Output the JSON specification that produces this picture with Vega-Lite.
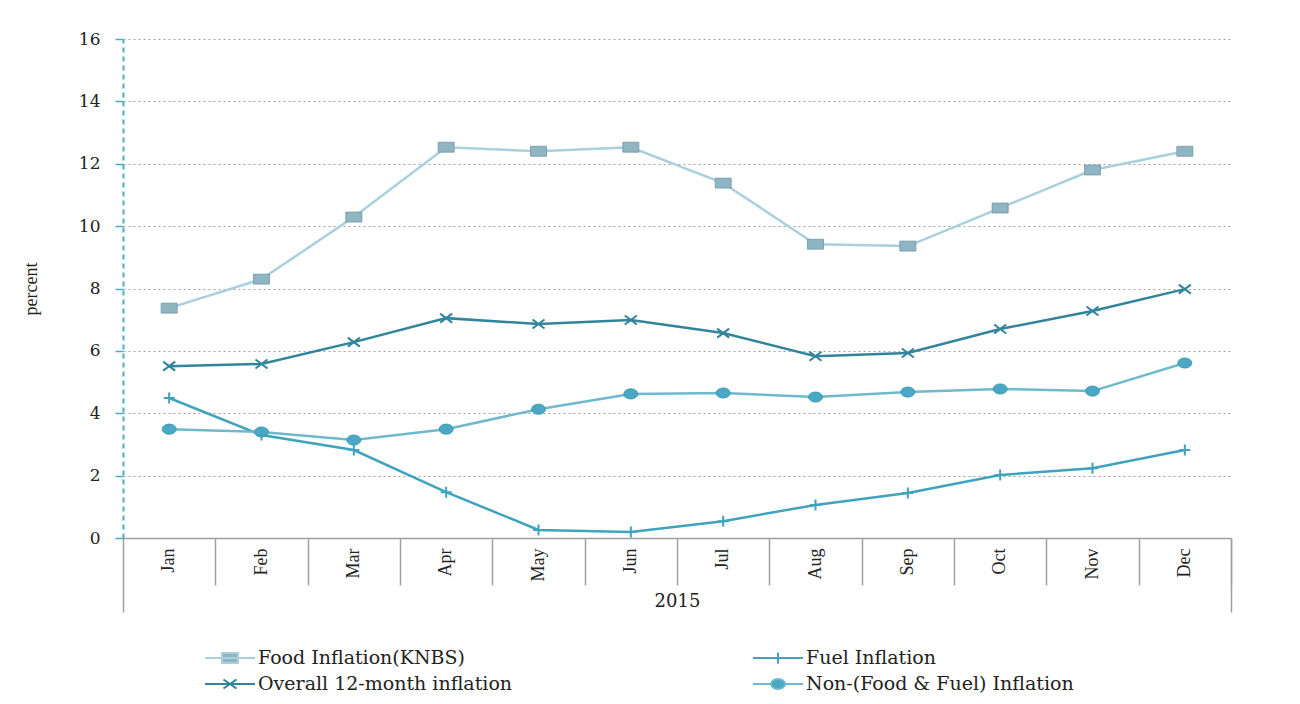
{
  "$schema": "https://vega.github.io/schema/vega-lite/v6.json",
  "width": 1108,
  "height": 499,
  "autosize": {"type": "none"},
  "padding": {"left": 123, "top": 39, "right": 69, "bottom": 166},
  "background": "white",
  "config": {
    "view": {"stroke": null},
    "axis": {"labelColor": "#222", "titleColor": "#222", "titleFontWeight": "normal"}
  },
  "data": {
    "values": [
      {"month": "Jan", "series": "Food Inflation(KNBS)", "value": 7.37},
      {"month": "Feb", "series": "Food Inflation(KNBS)", "value": 8.3},
      {"month": "Mar", "series": "Food Inflation(KNBS)", "value": 10.29},
      {"month": "Apr", "series": "Food Inflation(KNBS)", "value": 12.53},
      {"month": "May", "series": "Food Inflation(KNBS)", "value": 12.4},
      {"month": "Jun", "series": "Food Inflation(KNBS)", "value": 12.53},
      {"month": "Jul", "series": "Food Inflation(KNBS)", "value": 11.38},
      {"month": "Aug", "series": "Food Inflation(KNBS)", "value": 9.42},
      {"month": "Sep", "series": "Food Inflation(KNBS)", "value": 9.36},
      {"month": "Oct", "series": "Food Inflation(KNBS)", "value": 10.58},
      {"month": "Nov", "series": "Food Inflation(KNBS)", "value": 11.8},
      {"month": "Dec", "series": "Food Inflation(KNBS)", "value": 12.4},
      {"month": "Jan", "series": "Overall 12-month inflation", "value": 5.51},
      {"month": "Feb", "series": "Overall 12-month inflation", "value": 5.58},
      {"month": "Mar", "series": "Overall 12-month inflation", "value": 6.28},
      {"month": "Apr", "series": "Overall 12-month inflation", "value": 7.05},
      {"month": "May", "series": "Overall 12-month inflation", "value": 6.86},
      {"month": "Jun", "series": "Overall 12-month inflation", "value": 6.99},
      {"month": "Jul", "series": "Overall 12-month inflation", "value": 6.57},
      {"month": "Aug", "series": "Overall 12-month inflation", "value": 5.83},
      {"month": "Sep", "series": "Overall 12-month inflation", "value": 5.93},
      {"month": "Oct", "series": "Overall 12-month inflation", "value": 6.7},
      {"month": "Nov", "series": "Overall 12-month inflation", "value": 7.28},
      {"month": "Dec", "series": "Overall 12-month inflation", "value": 7.98},
      {"month": "Jan", "series": "Fuel Inflation", "value": 4.49},
      {"month": "Feb", "series": "Fuel Inflation", "value": 3.3},
      {"month": "Mar", "series": "Fuel Inflation", "value": 2.82},
      {"month": "Apr", "series": "Fuel Inflation", "value": 1.47},
      {"month": "May", "series": "Fuel Inflation", "value": 0.26},
      {"month": "Jun", "series": "Fuel Inflation", "value": 0.19},
      {"month": "Jul", "series": "Fuel Inflation", "value": 0.54},
      {"month": "Aug", "series": "Fuel Inflation", "value": 1.06},
      {"month": "Sep", "series": "Fuel Inflation", "value": 1.44},
      {"month": "Oct", "series": "Fuel Inflation", "value": 2.02},
      {"month": "Nov", "series": "Fuel Inflation", "value": 2.24},
      {"month": "Dec", "series": "Fuel Inflation", "value": 2.82},
      {"month": "Jan", "series": "Non-(Food & Fuel) Inflation", "value": 3.49},
      {"month": "Feb", "series": "Non-(Food & Fuel) Inflation", "value": 3.4},
      {"month": "Mar", "series": "Non-(Food & Fuel) Inflation", "value": 3.14},
      {"month": "Apr", "series": "Non-(Food & Fuel) Inflation", "value": 3.49},
      {"month": "May", "series": "Non-(Food & Fuel) Inflation", "value": 4.13},
      {"month": "Jun", "series": "Non-(Food & Fuel) Inflation", "value": 4.62},
      {"month": "Jul", "series": "Non-(Food & Fuel) Inflation", "value": 4.65},
      {"month": "Aug", "series": "Non-(Food & Fuel) Inflation", "value": 4.52},
      {"month": "Sep", "series": "Non-(Food & Fuel) Inflation", "value": 4.68},
      {"month": "Oct", "series": "Non-(Food & Fuel) Inflation", "value": 4.78},
      {"month": "Nov", "series": "Non-(Food & Fuel) Inflation", "value": 4.71},
      {"month": "Dec", "series": "Non-(Food & Fuel) Inflation", "value": 5.61}
    ]
  },
  "resolve": {"axis": {"x": "independent"}},
  "layer": [
    {
      "mark": {"type": "line", "strokeWidth": 2.5},
      "encoding": {
        "x": {
          "field": "month", "type": "nominal", "sort": ["Jan","Feb","Mar","Apr","May","Jun","Jul","Aug","Sep","Oct","Nov","Dec"],
          "scale": {"type": "band", "paddingInner": 0, "paddingOuter": 0},
          "axis": {
            "orient": "bottom", "domainColor": "#a0a0a0", "domainWidth": 1.5, "ticks": false,
            "labelAngle": 270, "labelAlign": "right", "labelBaseline": "middle", "labelPadding": 10,
            "labelFont": "Liberation Serif", "labelFontSize": 18,
            "title": "2015", "titleFont": "DejaVu Serif", "titleFontSize": 18, "titlePadding": 12, "grid": false
          }
        },
        "y": {
          "field": "value", "type": "quantitative",
          "scale": {"domain": [0, 16], "nice": false},
          "axis": {
            "values": [0,2,4,6,8,10,12,14,16],
            "domainColor": "#4bacc6", "domainDash": [5, 4], "domainWidth": 2,
            "tickColor": "#4bacc6", "tickWidth": 1.5, "tickSize": 8,
            "labelFont": "DejaVu Serif", "labelFontSize": 17, "labelPadding": 15,
            "grid": true, "gridColor": "#a0a0a0", "gridDash": [2, 3], "gridWidth": 1,
            "title": "percent", "titleFont": "Liberation Serif", "titleFontSize": 18, "titlePadding": 38
          }
        },
        "color": {
          "field": "series", "type": "nominal",
          "scale": {
            "domain": ["Food Inflation(KNBS)", "Fuel Inflation", "Overall 12-month inflation", "Non-(Food & Fuel) Inflation"],
            "range": ["#a9d0dc", "#3fa3bd", "#31849b", "#6fb9cd"]
          },
          "legend": {
            "orient": "none", "legendX": 96, "legendY": 608, "direction": "horizontal", "columns": 2,
            "title": null, "symbolSize": 400, "symbolStrokeWidth": 2, "columnPadding": 236, "rowPadding": 5,
            "labelFont": "DejaVu Serif", "labelFontSize": 19, "labelColor": "#222", "labelOffset": 17, "labelLimit": 400,
            "encode": {
              "symbols": {
                "update": {
                  "shape": {"signal": "datum.value === 'Food Inflation(KNBS)' ? 'M-2.5,0H2.5M-0.8,-0.5H0.8V0.5H-0.8Z' : datum.value === 'Fuel Inflation' ? 'M-2.5,0H2.5M0,-0.55V0.55' : datum.value === 'Overall 12-month inflation' ? 'M-2.5,0H2.5M-0.65,-0.45L0.65,0.45M-0.65,0.45L0.65,-0.45' : 'M-2.5,0H-0.7M0.7,0H2.5M-0.7,0A0.7,0.5 0 1,0 0.7,0A0.7,0.5 0 1,0 -0.7,0Z'"},
                  "fill": {"signal": "datum.value === 'Food Inflation(KNBS)' ? '#8fb4c2' : datum.value === 'Non-(Food & Fuel) Inflation' ? '#4aa8c5' : 'transparent'"},
                  "fillOpacity": {"value": 1},
                  "stroke": {"scale": "color", "field": "value"},
                  "strokeWidth": {"value": 2}
                }
              }
            }
          }
        }
      }
    },
    {
      "transform": [{"filter": "datum.series === 'Food Inflation(KNBS)'"}],
      "mark": {"type": "point", "filled": true, "opacity": 1, "shape": "M-1,-0.62H1V0.62H-1Z", "size": 256, "fill": "#8fb4c2", "stroke": "#6f97a6", "strokeWidth": 0.8},
      "encoding": {
        "x": {
          "field": "month", "type": "nominal", "sort": ["Jan","Feb","Mar","Apr","May","Jun","Jul","Aug","Sep","Oct","Nov","Dec"],
          "axis": {"orient": "bottom", "tickBand": "extent", "tickSize": 47, "tickColor": "#a0a0a0", "tickWidth": 1.5,
            "tickOpacity": {"condition": {"test": "datum.value == null", "value": 0}, "value": 1},
            "domain": false, "labels": false, "title": null, "grid": false}
        },
        "y": {"field": "value", "type": "quantitative"}
      }
    },
    {
      "transform": [{"filter": "datum.series === 'Non-(Food & Fuel) Inflation'"}],
      "mark": {"type": "point", "filled": true, "opacity": 1, "shape": "M-1,0A1,0.72 0 1,0 1,0A1,0.72 0 1,0 -1,0Z", "size": 196, "fill": "#4aa8c5", "stroke": "#3a93ad", "strokeWidth": 0.8},
      "encoding": {
        "x": {
          "field": "month", "type": "nominal", "sort": ["Jan","Feb","Mar","Apr","May","Jun","Jul","Aug","Sep","Oct","Nov","Dec"],
          "axis": {"orient": "bottom", "values": ["Jan"], "bandPosition": 0, "tickSize": 74, "tickColor": "#a0a0a0", "tickWidth": 1.5,
            "domain": false, "labels": false, "title": null, "grid": false}
        },
        "y": {"field": "value", "type": "quantitative"}
      }
    },
    {
      "transform": [{"filter": "datum.series === 'Fuel Inflation'"}],
      "mark": {"type": "point", "filled": false, "opacity": 1, "shape": "M-1,0H1M0,-1V1", "size": 121, "stroke": "#3fa3bd", "strokeWidth": 2},
      "encoding": {
        "x": {
          "field": "month", "type": "nominal", "sort": ["Jan","Feb","Mar","Apr","May","Jun","Jul","Aug","Sep","Oct","Nov","Dec"],
          "axis": {"orient": "bottom", "values": ["Dec"], "bandPosition": 1, "tickSize": 74, "tickColor": "#a0a0a0", "tickWidth": 1.5,
            "domain": false, "labels": false, "title": null, "grid": false}
        },
        "y": {"field": "value", "type": "quantitative"}
      }
    },
    {
      "transform": [{"filter": "datum.series === 'Overall 12-month inflation'"}],
      "mark": {"type": "point", "filled": false, "opacity": 1, "shape": "M-1,-0.75L1,0.75M-1,0.75L1,-0.75", "size": 144, "stroke": "#31849b", "strokeWidth": 2},
      "encoding": {
        "x": {"field": "month", "type": "nominal", "sort": ["Jan","Feb","Mar","Apr","May","Jun","Jul","Aug","Sep","Oct","Nov","Dec"], "axis": null},
        "y": {"field": "value", "type": "quantitative"}
      }
    }
  ]
}
